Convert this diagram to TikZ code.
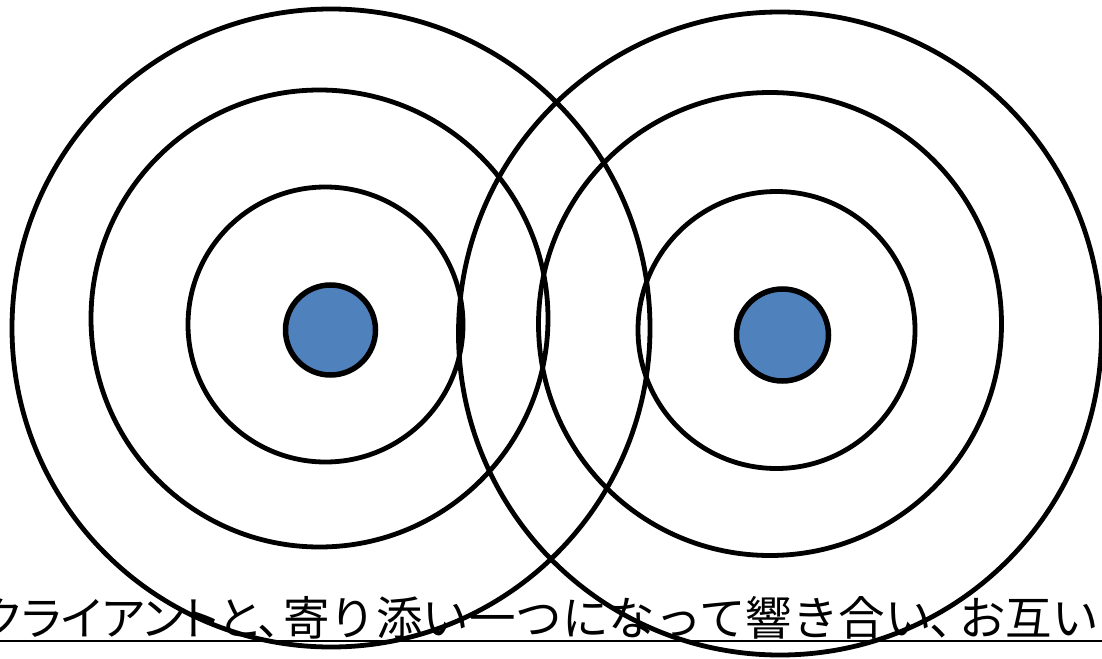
\documentclass[tikz,border=0pt]{standalone}
\usepackage{fontspec}
\newfontfamily\jpp[RawFeature=+palt]{Noto Sans CJK JP}
\newfontfamily\jp{Noto Sans CJK JP}
\definecolor{dotblue}{HTML}{4F81BD}
\tikzset{
  ring/.style={circle, draw=black, line width=4.8pt, inner sep=0pt, outer sep=0pt},
  dot/.style={circle, draw=black, fill=dotblue, line width=5.5pt, inner sep=0pt, outer sep=0pt},
  captionp/.style={anchor=base west, inner sep=0pt, font=\jpp\fontsize{46pt}{50pt}\selectfont},
  caption/.style={anchor=base west, inner sep=0pt, font=\jp\fontsize{46.5pt}{50pt}\selectfont}
}
\begin{document}
\begin{tikzpicture}[x=1pt, y=-1pt]
\useasboundingbox (0,0) rectangle (1102,658);
\clip (0,0) rectangle (1102,658);
\fill[white] (0,0) rectangle (1102,658);
% caption text
\node[captionp] (txtA) at (-20,635) {クライアントと、};
\node[caption] (txtB) at (283,635) {寄り添い一つになって響き合い};
\node[caption] (txtC) at (929,635) {、};
\node[caption] (txtD) at (959,635) {お互い};
\coordinate (ulA) at (0,640.5);
\coordinate (ulB) at (1102,640.5);
\draw[line width=2pt] (ulA) -- (ulB);
% left set
\node[ring, minimum size=638pt] (L3) at (331,328) {};
\node[ring, minimum size=457pt] (L2) at (319.5,318.5) {};
\node[ring, minimum size=275pt] (L1) at (325.5,324.5) {};
\node[dot, minimum size=90pt] (L0) at (330.5,330) {};
% right set
\node[ring, minimum size=643pt] (R3) at (780,333.5) {};
\node[ring, minimum size=463pt] (R2) at (770,324) {};
\node[ring, minimum size=277pt] (R1) at (776.5,330) {};
\node[dot, minimum size=92pt] (R0) at (782.5,335) {};
\end{tikzpicture}
\end{document}
